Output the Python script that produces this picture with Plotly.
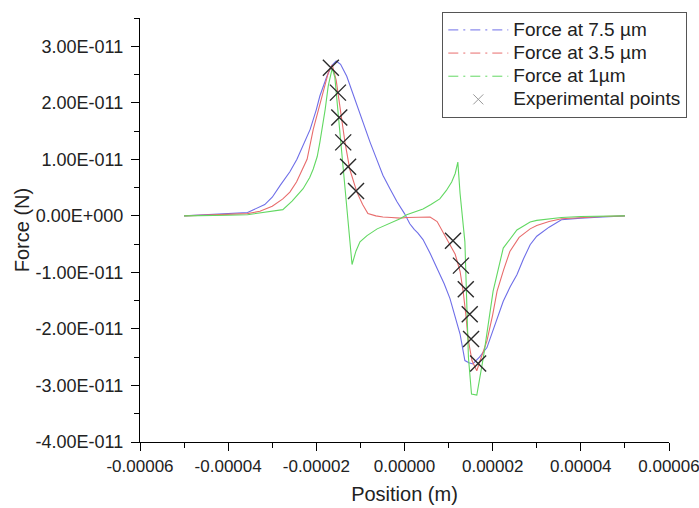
import numpy as np
import plotly.graph_objects as go

# units: x in 1e-5 m, y in 1e-11 N
XS = 1e-5
YS = 1e-11

x_75 = [-5.0, -4.5, -4.0, -3.56, -3.17, -3.0, -2.82, -2.6, -2.44, -2.3, -2.14, -2.0, -1.92, -1.76, -1.65, -1.55,
        -1.45, -1.31, -1.2, -1.08, -0.93, -0.78, -0.63, -0.49, -0.33, -0.17, 0.0, 0.12, 0.22, 0.3, 0.42, 0.58,
        0.74, 0.9, 1.03, 1.15, 1.26, 1.37, 1.46, 1.55, 1.7, 1.87, 2.05, 2.24, 2.4, 2.55, 2.7, 2.85, 3.0, 3.28,
        3.56, 4.0, 4.5, 5.0]
y_75 = [0.0, 0.02, 0.04, 0.06, 0.2, 0.33, 0.54, 0.78, 1.0, 1.25, 1.53, 1.88, 2.12, 2.47, 2.66, 2.74,
        2.68, 2.47, 2.22, 1.95, 1.62, 1.3, 1.0, 0.72, 0.48, 0.25, 0.04, -0.14, -0.24, -0.3, -0.42, -0.66,
        -0.93, -1.2, -1.46, -1.78, -2.09, -2.56, -2.6, -2.62, -2.5, -2.33, -1.92, -1.51, -1.25, -1.04, -0.76, -0.51,
        -0.36, -0.2, -0.07, -0.04, -0.02, 0.0]

x_35 = [-5.0, -4.5, -4.0, -3.56, -3.28, -3.0, -2.76, -2.6, -2.45, -2.3, -2.21, -2.07, -1.95, -1.87, -1.73, -1.64,
        -1.55, -1.51, -1.42, -1.35, -1.24, -1.08, -0.95, -0.83, -0.65, -0.49, -0.3, -0.1, 0.05, 0.3, 0.58,
        0.74, 0.85, 0.96, 1.15, 1.26, 1.33, 1.39, 1.44, 1.53, 1.64, 1.72, 1.87, 2.0, 2.1, 2.25, 2.39, 2.6,
        2.85, 3.0, 3.28, 3.56, 4.0, 4.5, 5.0]
y_35 = [0.0, 0.01, 0.03, 0.04, 0.08, 0.17, 0.3, 0.42, 0.6, 0.85, 1.0, 1.53, 1.9, 2.12, 2.53, 2.67,
        2.4, 2.18, 1.7, 1.3, 0.82, 0.42, 0.2, 0.04, 0.0, -0.02, -0.03, -0.04, -0.03, -0.02, -0.02,
        -0.1, -0.25, -0.4, -0.68, -0.98, -1.33, -1.74, -2.16, -2.56, -2.74, -2.55, -2.21, -1.75, -1.33, -0.95, -0.63, -0.38,
        -0.23, -0.17, -0.1, -0.05, -0.03, -0.01, 0.0]

x_1 = [-5.0, -4.5, -4.0, -3.56, -3.28, -3.0, -2.76, -2.55, -2.3, -2.15, -2.07, -1.98, -1.92, -1.8, -1.73, -1.64,
       -1.58, -1.19, -1.1, -1.01, -0.85, -0.62, -0.45, -0.26, -0.1, 0.05, 0.25, 0.42, 0.6, 0.8, 0.95, 1.07,
       1.15, 1.21, 1.26, 1.37, 1.45, 1.52, 1.64, 1.79, 2.01, 2.24, 2.55, 2.85, 3.0, 3.28, 3.56, 4.0, 4.5, 5.0]
y_1 = [0.0, 0.0, 0.01, 0.02, 0.05, 0.08, 0.11, 0.26, 0.48, 0.68, 0.83, 1.05, 1.3, 1.88, 2.3, 2.61,
       2.45, -0.86, -0.62, -0.46, -0.35, -0.23, -0.17, -0.11, -0.05, 0.02, 0.07, 0.12, 0.2, 0.3, 0.45, 0.6,
       0.75, 0.95, 0.4, -0.46, -2.5, -3.15, -3.17, -2.5, -1.33, -0.57, -0.25, -0.11, -0.08, -0.05, -0.03, -0.01, 0.0, 0.0]

x_exp = [-1.67, -1.51, -1.48, -1.39, -1.28, -1.10, 1.10, 1.28, 1.39, 1.48, 1.51, 1.67]
y_exp = [2.62, 2.18, 1.74, 1.30, 0.87, 0.44, -0.44, -0.88, -1.30, -1.74, -2.18, -2.61]

names = ["Force at 7.5 \u00b5m", "Force at 3.5 \u00b5m", "Force at 1\u00b5m", "Experimental points"]
colors = ["#6e6ee8", "#e86c6c", "#62d862"]

x_tick_vals = [-6, -4, -2, 0, 2, 4, 6]
x_tick_text = ["-0.00006", "-0.00004", "-0.00002", "0.00000", "0.00002", "0.00004", "0.00006"]
y_tick_vals = [-4, -3, -2, -1, 0, 1, 2, 3]
y_tick_text = ["-4.00E-011", "-3.00E-011", "-2.00E-011", "-1.00E-011", "0.00E+000",
               "1.00E-011", "2.00E-011", "3.00E-011"]

FONT = "Liberation Sans, Arial, sans-serif"
LEG = '<span style="font-size:19px">{}</span>'

fig = go.Figure()
for xs, ys, c in [(x_75, y_75, colors[0]), (x_35, y_35, colors[1]), (x_1, y_1, colors[2])]:
    fig.add_trace(go.Scatter(x=np.array(xs) * XS, y=np.array(ys) * YS, mode="lines",
                             line=dict(color=c, width=1.1), showlegend=False, hoverinfo="skip"))
fig.add_trace(go.Scatter(x=np.array(x_exp) * XS, y=np.array(y_exp) * YS, mode="markers",
                         marker=dict(symbol="x-thin", size=16, line=dict(color="#2a2a2a", width=1.4)),
                         showlegend=False))
# legend entries
for n, c in zip(names[:3], colors):
    fig.add_trace(go.Scatter(x=[None], y=[None], mode="lines", name=LEG.format(n),
                             line=dict(color=c, width=1, dash="10px,5px,2px,5px")))
fig.add_trace(go.Scatter(x=[None], y=[None], mode="markers", name=LEG.format(names[3]),
                         marker=dict(symbol="x-thin", size=10, line=dict(color="#999999", width=1))))

axis_common = dict(showline=True, linecolor="black", linewidth=1.3, ticks="outside", ticklen=8,
                   tickwidth=1.3, tickcolor="black", showgrid=False, zeroline=False,
                   mirror=False, automargin=False, ticklabeloverflow="allow")
fig.update_xaxes(range=[-6e-5, 6e-5], tickvals=[v * XS for v in x_tick_vals], ticktext=x_tick_text,
                 tickfont=dict(family=FONT, size=17, color="#222"),
                 minor=dict(ticks="outside", ticklen=5, tickwidth=1.3, tickcolor="black", dtick=1e-5, tick0=0),
                 title=dict(text="Position (m)", font=dict(family=FONT, size=20, color="#222"), standoff=12),
                 ticklabelstandoff=0, **axis_common)
fig.update_yaxes(range=[-4e-11, 3.5e-11], tickvals=[v * YS for v in y_tick_vals], ticktext=y_tick_text,
                 tickfont=dict(family=FONT, size=18, color="#222"),
                 minor=dict(ticks="outside", ticklen=5, tickwidth=1.3, tickcolor="black", dtick=0.5e-11, tick0=0),
                 title=dict(text="Force (N)", font=dict(family=FONT, size=20, color="#222"), standoff=0),
                 ticklabelstandoff=4, **axis_common)

fig.update_layout(
    width=699, height=508, margin=dict(l=140, r=30, t=15, b=66),
    paper_bgcolor="white", plot_bgcolor="white",
    showlegend=True,
    legend=dict(x=(442 - 140) / 529, y=1 + 6 / 427, xanchor="left", yanchor="top", bgcolor="white",
                bordercolor="#555", borderwidth=1.3, font=dict(family=FONT, size=15.5, color="#222"),
                itemwidth=60, tracegroupgap=0),
)
fig.write_html("out.html")
